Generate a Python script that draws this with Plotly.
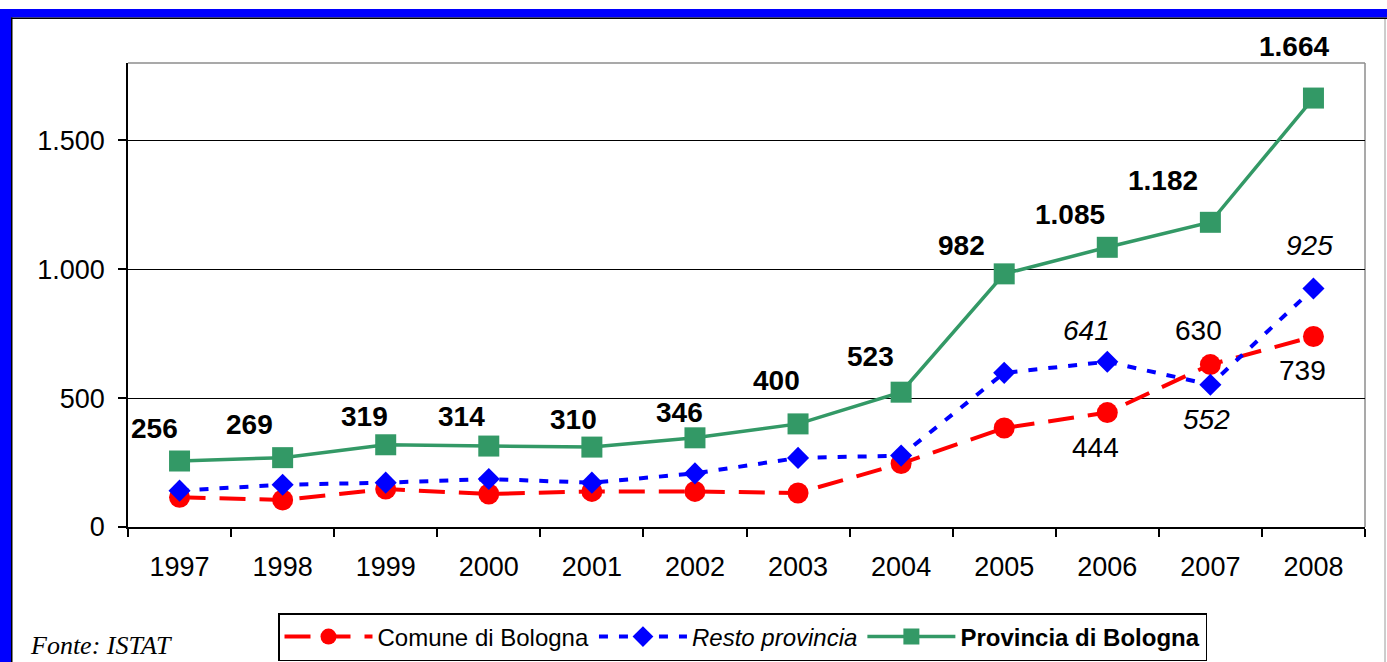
import plotly.graph_objects as go

# ---------------- data ----------------
years = ["1997", "1998", "1999", "2000", "2001", "2002", "2003", "2004", "2005", "2006", "2007", "2008"]
comune = [115, 105, 147, 128, 138, 138, 132, 246, 384, 444, 630, 739]
resto = [141, 164, 172, 186, 172, 208, 268, 277, 598, 641, 552, 925]
provincia = [256, 269, 319, 314, 310, 346, 400, 523, 982, 1085, 1182, 1664]

provincia_labels = ["256", "269", "319", "314", "310", "346", "400", "523", "982", "1.085", "1.182", "1.664"]
comune_label_years = ["2006", "2007", "2008"]
comune_label_text = ["444", "630", "739"]
resto_label_years = ["2006", "2007", "2008"]
resto_label_text = ["641", "552", "925"]

y_tick_vals = [0, 500, 1000, 1500]
y_tick_text = ["0", "500", "1.000", "1.500"]

# ---------------- layout geometry (pixels) ----------------
FIG_W, FIG_H = 1387, 662
L, R, T, B = 128, 1365, 63, 527
W, H = R - L, B - T


def px(x):
    return (x - L) / W


def py(y):
    return (B - y) / H


# label offsets in pixels (dx right, dy down)
prov_off = [(-25, -33), (-33, -33), (-21, -28), (-27, -30), (-18, -28), (-15, -25),
            (-22, -43), (-31, -36), (-43, -28), (-37, -33), (-47, -42), (-19, -52)]
comune_off = [(-12, 35), (-12, -34), (-11, 34)]
resto_off = [(-21, -31), (-4, 35), (-4, -43)]

RED = "#FF0000"
BLUE = "#0000FF"
GREEN = "#339966"
FONT = "Liberation Sans, Arial, sans-serif"
LABEL_SIZE = 28

fig = go.Figure()

fig.add_trace(go.Scatter(
    x=years, y=comune, name="Comune di Bologna", mode="lines+markers",
    line=dict(color=RED, width=4, dash="26px,14px"),
    marker=dict(symbol="circle", size=21, color=RED),
))
fig.add_trace(go.Scatter(
    x=years, y=resto, name="<i>Resto provincia</i>", mode="lines+markers",
    line=dict(color=BLUE, width=4, dash="9px,11px"),
    marker=dict(symbol="diamond", size=17, color=BLUE),
))
fig.add_trace(go.Scatter(
    x=years, y=provincia, name="<b>Provincia di Bologna</b>", mode="lines+markers",
    line=dict(color=GREEN, width=3.5),
    marker=dict(symbol="square", size=21, color=GREEN),
))

annotations = []
for i, (v, t, (dx, dy)) in enumerate(zip(provincia, provincia_labels, prov_off)):
    annotations.append(dict(x=i, y=v, xref="x", yref="y", text="<b>" + t + "</b>",
                            showarrow=False, xshift=dx, yshift=-dy,
                            font=dict(family=FONT, size=LABEL_SIZE, color="black")))
for yr, t, (dx, dy) in zip(comune_label_years, comune_label_text, comune_off):
    i = years.index(yr)
    annotations.append(dict(x=i, y=comune[i], xref="x", yref="y", text=t,
                            showarrow=False, xshift=dx, yshift=-dy,
                            font=dict(family=FONT, size=LABEL_SIZE, color="black")))
for yr, t, (dx, dy) in zip(resto_label_years, resto_label_text, resto_off):
    i = years.index(yr)
    annotations.append(dict(x=i, y=resto[i], xref="x", yref="y", text="<i>" + t + "</i>",
                            showarrow=False, xshift=dx, yshift=-dy,
                            font=dict(family=FONT, size=LABEL_SIZE, color="black")))

annotations.append(dict(x=px(28), y=py(645), xref="paper", yref="paper", xanchor="left",
                        yanchor="middle", showarrow=False, text="<i>Fonte: ISTAT</i>",
                        font=dict(family="Liberation Serif, Times New Roman, serif", size=26,
                                  color="black")))

shapes = [
    # plot area grey frame (top & right)
    dict(type="line", xref="paper", yref="paper", x0=0, x1=1, y0=1, y1=1,
         line=dict(color="#8c8c8c", width=1.5), layer="below"),
    dict(type="line", xref="paper", yref="paper", x0=1, x1=1, y0=0, y1=1,
         line=dict(color="#8c8c8c", width=1.5), layer="below"),
    # blue outer frame
    dict(type="rect", xref="paper", yref="paper", x0=px(0), x1=px(11), y0=py(700), y1=py(9),
         fillcolor=BLUE, line=dict(width=0)),
    dict(type="rect", xref="paper", yref="paper", x0=px(0), x1=px(1400), y0=py(17.5), y1=py(9),
         fillcolor=BLUE, line=dict(width=0)),
    # thin black inner frame
    dict(type="rect", xref="paper", yref="paper", x0=px(11), x1=px(12.5), y0=py(700), y1=py(17.5),
         fillcolor="black", line=dict(width=0)),
    dict(type="rect", xref="paper", yref="paper", x0=px(11), x1=px(1400), y0=py(19), y1=py(17.5),
         fillcolor="black", line=dict(width=0)),
    # right grey outer edge
    dict(type="line", xref="paper", yref="paper", x0=px(1385), x1=px(1385), y0=py(700), y1=py(19),
         line=dict(color="#9a9a9a", width=1)),
]

fig.update_layout(
    width=FIG_W, height=FIG_H,
    margin=dict(l=L, r=FIG_W - R, t=T, b=FIG_H - B, autoexpand=False),
    paper_bgcolor="white", plot_bgcolor="white",
    separators=",.",
    font=dict(family=FONT, color="black"),
    showlegend=True,
    legend=dict(
        orientation="h", x=px(278), y=py(613), xanchor="left", yanchor="top",
        bordercolor="black", borderwidth=1.5, bgcolor="white",
        font=dict(family=FONT, size=24, color="black"),
        tracegroupgap=0, itemwidth=88,
    ),
    xaxis=dict(
        type="category", range=[-0.5, 11.5], showgrid=False, showline=True,
        linecolor="black", linewidth=1.5,
        ticks="outside", tickson="boundaries", ticklen=8, tickcolor="black", tickwidth=1.5,
        tickfont=dict(family=FONT, size=27, color="black"), ticklabelstandoff=15,
        tickangle=0, zeroline=False, fixedrange=True,
    ),
    yaxis=dict(
        range=[0, 1800], tickvals=y_tick_vals, ticktext=y_tick_text,
        showgrid=True, gridcolor="black", gridwidth=1,
        showline=True, linecolor="black", linewidth=1.5,
        ticks="outside", ticklen=8, tickcolor="black", tickwidth=1.5,
        tickfont=dict(family=FONT, size=27, color="black"), ticklabelstandoff=8,
        zeroline=False, fixedrange=True,
    ),
    annotations=annotations,
    shapes=shapes,
)

fig.write_html("out.html", config={"displayModeBar": False},
               post_script="document.body.style.margin='0px';")
